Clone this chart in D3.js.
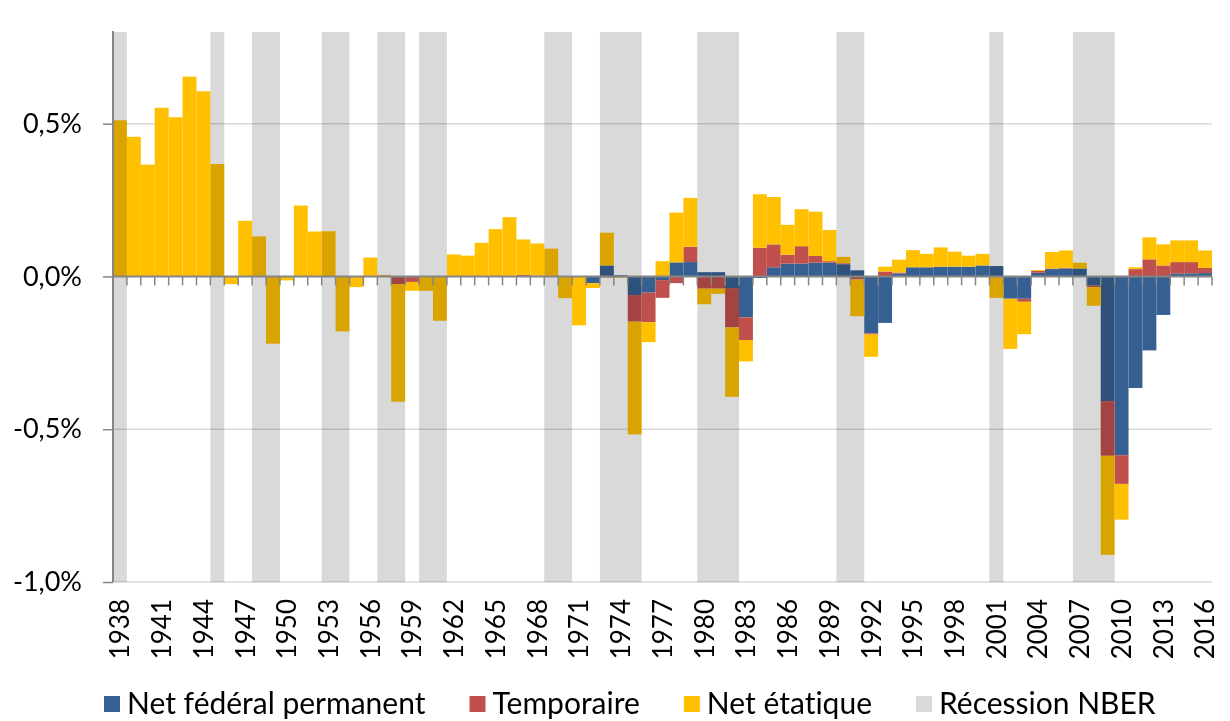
<!DOCTYPE html>
<html>
<head>
<meta charset="utf-8">
<script src="https://cdn.jsdelivr.net/npm/d3@7"></script>
<style>
  body { margin: 0; background: #fff; }
  svg { display: block; font-family: Lato, "Open Sans", sans-serif; font-variant-ligatures: none; }
  .band { mix-blend-mode: multiply; }
</style>
</head>
<body>
<svg width="1230" height="721"></svg>
<script>
// years 1938 - 2016
var years = d3.range(1938, 2017);

// values in %
var federal = [
  0, 0, 0, 0, 0, 0, 0, 0, 0, 0,
  0, 0, 0, 0, 0, 0, 0, 0, 0, 0,
  0, 0, 0, 0, 0, 0, 0, 0, 0, 0,
  0, 0, 0, 0, -0.022, 0.036, 0.004, -0.061, -0.053, -0.012,
  0.046, 0.047, 0.014, 0.014, -0.038, -0.134, -0.005, 0.030, 0.042, 0.042,
  0.045, 0.045, 0.040, 0.020, -0.186, -0.152, 0.010, 0.030, 0.030, 0.032,
  0.032, 0.032, 0.036, 0.034, -0.073, -0.073, 0.012, 0.024, 0.026, 0.026,
  -0.030, -0.408, -0.585, -0.365, -0.242, -0.126, 0.010, 0.010, 0.011
];
var temporary = [
  0, 0, 0, 0, 0, 0, 0, 0, 0, 0,
  0, 0, 0, 0, 0, 0, 0, 0, 0, 0,
  -0.025, -0.018, 0, 0, 0, 0, 0, 0, 0, 0.005,
  0.003, 0, 0, 0, 0, -0.003, 0, -0.087, -0.097, -0.058,
  -0.022, 0.050, -0.040, -0.040, -0.129, -0.074, 0.094, 0.075, 0.029, 0.057,
  0.022, 0.005, 0.003, -0.010, -0.004, 0.016, 0.003, 0, 0, 0,
  0, 0, 0, 0, 0, -0.010, 0.006, 0.002, 0.002, 0,
  -0.005, -0.179, -0.094, 0.024, 0.056, 0.036, 0.037, 0.037, 0.017
];
var state = [
  0.511, 0.457, 0.366, 0.552, 0.521, 0.654, 0.606, 0.368, -0.025, 0.182,
  0.131, -0.220, -0.013, 0.232, 0.147, 0.148, -0.180, -0.035, 0.062, 0.005,
  -0.385, -0.029, -0.047, -0.145, 0.072, 0.068, 0.110, 0.155, 0.194, 0.116,
  0.105, 0.091, -0.071, -0.160, -0.016, 0.107, -0.004, -0.369, -0.065, 0.050,
  0.163, 0.160, -0.051, -0.017, -0.227, -0.070, 0.175, 0.155, 0.098, 0.121,
  0.145, 0.102, 0.021, -0.120, -0.073, 0.016, 0.042, 0.056, 0.044, 0.063,
  0.049, 0.036, 0.038, -0.070, -0.164, -0.106, 0.003, 0.054, 0.057, 0.019,
  -0.061, -0.324, -0.117, 0.006, 0.072, 0.069, 0.071, 0.071, 0.057
];

var recessionYears = [1938, 1945, 1948, 1949, 1953, 1954, 1957, 1958, 1960, 1961,
  1969, 1970, 1973, 1974, 1975, 1980, 1981, 1982, 1990, 1991, 2001, 2007, 2008, 2009];

var yTicks = [-1, -0.5, 0, 0.5];

var seriesKeys = ["federal", "temporary", "state"];
var seriesNames = ["Net fédéral permanent", "Temporaire", "Net étatique", "Récession NBER"];
var colors = ["#376092", "#c0504d", "#ffc000", "#d9d9d9"];

var svg = d3.select("svg"),
    width = +svg.attr("width"),
    height = +svg.attr("height");

var plotLeft = 113, plotRight = 1212, plotTop = 32, plotBottom = 582;

var rows = years.map(function(yr, i) {
  return {year: yr, federal: federal[i], temporary: temporary[i], state: state[i]};
});

var x = d3.scaleBand().domain(years).range([plotLeft, plotRight]).padding(0);
var y = d3.scaleLinear().domain([-1, 0.8]).range([plotBottom, plotTop]);

svg.append("rect").attr("width", width).attr("height", height).attr("fill", "#fff");

// gridlines
svg.append("g")
  .selectAll("line")
  .data(yTicks.filter(function(d) { return d !== 0; }))
  .enter().append("line")
    .attr("x1", plotLeft).attr("x2", plotRight)
    .attr("y1", function(d) { return y(d); })
    .attr("y2", function(d) { return y(d); })
    .style("stroke", "#d9d9d9")
    .style("stroke-width", "1.5px");

// stacked bars
var stack = d3.stack().keys(seriesKeys).offset(d3.stackOffsetDiverging);
var layers = stack(rows);

svg.append("g")
  .selectAll("g")
  .data(layers)
  .enter().append("g")
    .attr("fill", function(d, i) { return colors[i]; })
  .selectAll("rect")
  .data(function(d) { return d; })
  .enter().append("rect")
    .attr("x", function(d) { return x(d.data.year); })
    .attr("width", x.bandwidth())
    .attr("y", function(d) { return y(Math.max(d[0], d[1])); })
    .attr("height", function(d) { return Math.abs(y(d[0]) - y(d[1])); });

// recession bands, blended over the bars
svg.append("g")
  .selectAll("rect")
  .data(recessionYears)
  .enter().append("rect")
    .attr("class", "band")
    .attr("x", function(d) { return x(d); })
    .attr("width", x.bandwidth())
    .attr("y", plotTop)
    .attr("height", plotBottom - plotTop)
    .attr("fill", colors[3]);

// zero axis with ticks at category boundaries
var axisColor = "#868686";
var bounds = years.map(function(d) { return x(d); }).concat([plotRight]);

svg.append("line")
  .attr("x1", plotLeft).attr("x2", plotRight)
  .attr("y1", y(0)).attr("y2", y(0))
  .style("stroke", axisColor).style("stroke-width", "2px");

svg.append("g")
  .selectAll("line")
  .data(bounds.slice(1))
  .enter().append("line")
    .attr("x1", function(d) { return d; })
    .attr("x2", function(d) { return d; })
    .attr("y1", y(0))
    .attr("y2", y(0) + 9)
    .style("stroke", axisColor).style("stroke-width", "1.5px");

// y axis
var yAxis = d3.axisLeft(y)
  .tickValues(yTicks)
  .tickSize(10)
  .tickPadding(21)
  .tickFormat(function(d) {
    return (d < 0 ? "-" : "") + Math.abs(d).toFixed(1).replace(".", ",") + "%";
  });

var gy = svg.append("g")
  .attr("transform", "translate(" + plotLeft + ",0)")
  .call(yAxis);
gy.select(".domain").remove();
gy.selectAll(".tick line").style("stroke", axisColor).style("stroke-width", "1.5px");
gy.selectAll("text")
  .style("font-family", "Lato, sans-serif")
  .style("font-size", "27px")
  .style("fill", "#000");

svg.append("line")
  .attr("x1", plotLeft).attr("x2", plotLeft)
  .attr("y1", plotTop - 1).attr("y2", plotBottom)
  .style("stroke", axisColor).style("stroke-width", "2px");

// year labels, every third year
svg.append("g")
  .selectAll("text")
  .data(years.filter(function(d) { return (d - 1938) % 3 === 0; }))
  .enter().append("text")
    .attr("transform", function(d) {
      return "translate(" + (x(d) + x.bandwidth() / 2) + "," + 599 + ") rotate(-90)";
    })
    .attr("dy", "0.36em")
    .style("text-anchor", "end")
    .style("font-size", "26px")
    .style("fill", "#000")
    .text(function(d) { return d; });

// legend
var legend = svg.append("g").attr("transform", "translate(104,0)");
var lx = 0;
seriesNames.forEach(function(name, i) {
  var item = legend.append("g").attr("transform", "translate(" + lx + ",0)");
  item.append("rect")
    .attr("x", 0).attr("y", 696)
    .attr("width", 16).attr("height", 16)
    .attr("fill", colors[i]);
  var t = item.append("text")
    .attr("x", 23).attr("y", 714)
    .style("font-size", "30px")
    .style("fill", "#000")
    .text(name);
  lx += 23 + t.node().getComputedTextLength() + 44;
});
</script>
</body>
</html>
